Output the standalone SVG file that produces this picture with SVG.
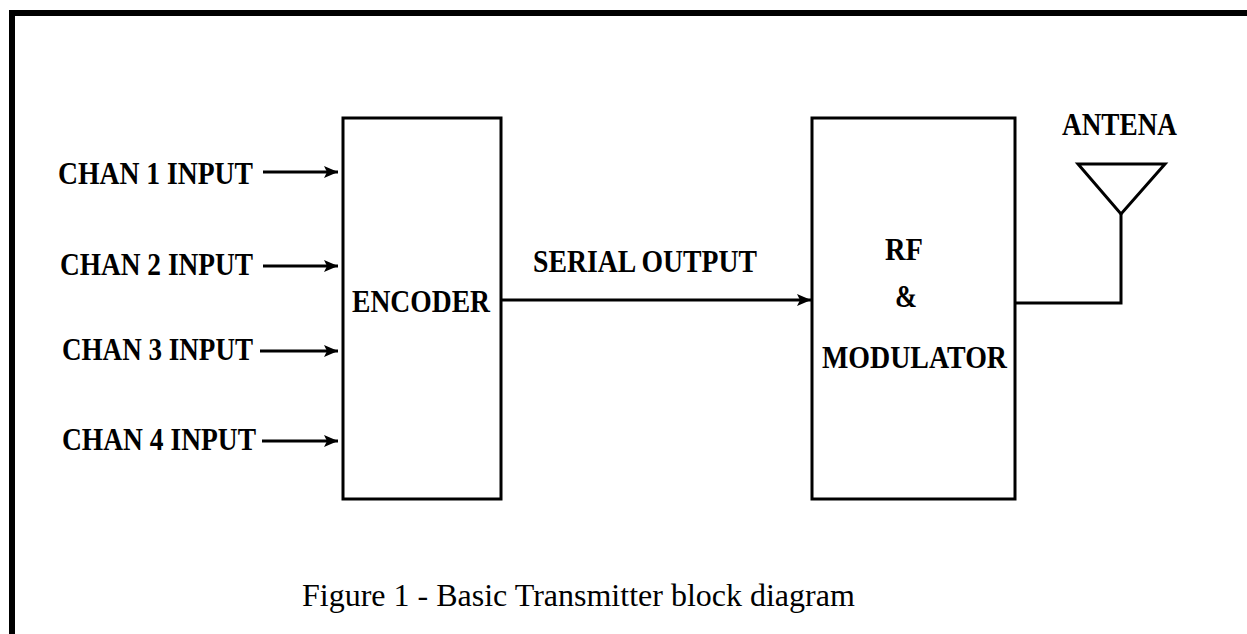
<svg xmlns="http://www.w3.org/2000/svg" width="1247" height="634" viewBox="0 0 1247 634">
<style>
.box{fill:#fff;stroke:#000;stroke-width:3}
.ln{fill:none;stroke:#000;stroke-width:3}
.lb{font-family:"Liberation Serif","Times New Roman",serif;font-weight:bold;font-size:31px;fill:#000}
.cap{font-family:"Liberation Serif","Times New Roman",serif;font-size:32px;fill:#000}
</style>
<defs>
<marker id="ah" markerWidth="14" markerHeight="12" refX="14" refY="6" orient="auto" markerUnits="userSpaceOnUse">
<path d="M0,0 L14,6 L0,12 L3,6 Z" fill="#000"/>
</marker>
</defs>
<rect width="1247" height="634" fill="#fff"/>
<path d="M12,634 V13 H1247" fill="none" stroke="#000" stroke-width="6"/>
<g id="inputs">
<text class="lb" x="58" y="184" textLength="195" lengthAdjust="spacingAndGlyphs">CHAN 1 INPUT</text>
<text class="lb" x="60" y="275" textLength="193" lengthAdjust="spacingAndGlyphs">CHAN 2 INPUT</text>
<text class="lb" x="62" y="360" textLength="191" lengthAdjust="spacingAndGlyphs">CHAN 3 INPUT</text>
<text class="lb" x="62" y="450" textLength="194" lengthAdjust="spacingAndGlyphs">CHAN 4 INPUT</text>
</g>
<g id="encoder">
<rect class="box" x="343" y="118" width="158" height="381"/>
<text class="lb" x="352" y="312" textLength="138" lengthAdjust="spacingAndGlyphs">ENCODER</text>
</g>
<g id="rf-modulator">
<rect class="box" x="812" y="118" width="203" height="381"/>
<text class="lb" x="885" y="260" textLength="38" lengthAdjust="spacingAndGlyphs">RF</text>
<text class="lb" x="895" y="307" textLength="22" lengthAdjust="spacingAndGlyphs">&amp;</text>
<text class="lb" x="822" y="368" textLength="185" lengthAdjust="spacingAndGlyphs">MODULATOR</text>
</g>
<g id="antenna">
<text class="lb" x="1062" y="135" textLength="115" lengthAdjust="spacingAndGlyphs">ANTENA</text>
<path class="ln" d="M1078,164 H1165 L1121,214 Z" stroke-linejoin="miter"/>
</g>
<g id="connectors">
<line class="ln" x1="263" y1="172" x2="338" y2="172" marker-end="url(#ah)"/>
<line class="ln" x1="263" y1="266" x2="338" y2="266" marker-end="url(#ah)"/>
<line class="ln" x1="260" y1="351" x2="338" y2="351" marker-end="url(#ah)"/>
<line class="ln" x1="262" y1="441" x2="338" y2="441" marker-end="url(#ah)"/>
<line class="ln" x1="501" y1="300" x2="811" y2="300" marker-end="url(#ah)"/>
<path class="ln" d="M1015,303 H1121 V214"/>
</g>
<g id="serial-label">
<text class="lb" x="533" y="272" textLength="224" lengthAdjust="spacingAndGlyphs">SERIAL OUTPUT</text>
</g>
<text class="cap" x="302" y="606">Figure 1 - Basic Transmitter block diagram</text>
</svg>
